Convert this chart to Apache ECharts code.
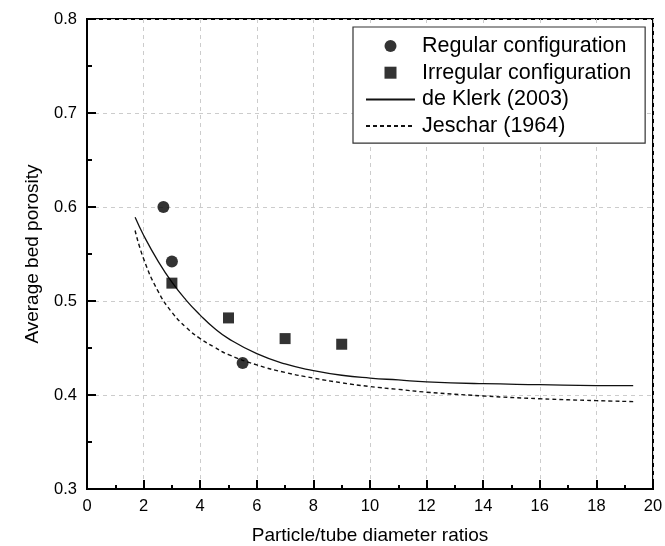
<!DOCTYPE html>
<html><head><meta charset="utf-8">
<script src="https://cdn.jsdelivr.net/npm/echarts@6/dist/echarts.min.js"></script>
<style>html,body{margin:0;padding:0;background:#fff}#c{width:665px;height:546px}</style>
</head><body><div id="c"></div>
<script>
const xTicks = [0, 2, 4, 6, 8, 10, 12, 14, 16, 18, 20];
const yTicks = [0.3, 0.4, 0.5, 0.6, 0.7, 0.8];
const regularX = [2.7, 3.0, 5.5];
const regularY = [0.600, 0.542, 0.434];
const irregularX = [3.0, 5.0, 7.0, 9.0];
const irregularY = [0.519, 0.482, 0.460, 0.454];
const deKlerkX = [1.7, 2.0, 2.5, 3.0, 3.5, 4.0, 4.5, 5.0, 6.0, 7.0, 8.0, 9.0, 10.0, 11.0, 12.0, 14.0, 16.0, 18.0, 19.3];
const deKlerkY = [0.589, 0.570, 0.543, 0.520, 0.501, 0.485, 0.471, 0.460, 0.444, 0.433, 0.426, 0.421, 0.418, 0.416, 0.414, 0.412, 0.411, 0.410, 0.410];
const jescharX = [1.7, 2.0, 2.5, 3.0, 3.5, 4.0, 4.5, 5.0, 6.0, 7.0, 8.0, 9.0, 10.0, 11.0, 12.0, 14.0, 16.0, 18.0, 19.3];
const jescharY = [0.575, 0.545, 0.511, 0.488, 0.472, 0.460, 0.451, 0.443, 0.432, 0.424, 0.418, 0.413, 0.409, 0.406, 0.403, 0.399, 0.396, 0.394, 0.393];
const names = ['Regular configuration', 'Irregular configuration', 'de Klerk (2003)', 'Jeschar (1964)'];
const xName = 'Particle/tube diameter ratios';
const yName = 'Average bed porosity';

const zip = (a, b) => a.map((v, i) => [v, b[i]]);
const FF = '"Liberation Sans", Arial, sans-serif';
const chart = echarts.init(document.getElementById('c'));
chart.setOption({
  animation: false,
  textStyle: { fontFamily: FF },
  grid: { left: 87, right: 12, top: 19, bottom: 57, containLabel: false, outerBoundsMode: 'none',
    show: true, borderColor: '#000', borderWidth: 2, backgroundColor: 'transparent' },
  legend: {
    orient: 'vertical', left: 353, top: 27,
    padding: [8, 14, 6, 12],
    borderColor: '#333', borderWidth: 1.2, backgroundColor: '#fff',
    itemWidth: 49, itemHeight: 12, itemGap: 4.7,
    symbolKeepAspect: true,
    textStyle: { fontSize: 21.5, color: '#000', fontFamily: FF, lineHeight: 22, padding: [0, 0, 0, 2] },
    data: [
      { name: names[0], icon: 'circle' },
      { name: names[1], icon: 'path://M0,0L10,0L10,10L0,10Z' },
      { name: names[2], itemStyle: { opacity: 0 } },
      { name: names[3], itemStyle: { opacity: 0 } }
    ]
  },
  xAxis: {
    type: 'value', min: xTicks[0], max: xTicks[xTicks.length - 1], interval: 2,
    name: xName, nameLocation: 'middle', nameGap: 37,
    nameTextStyle: { fontSize: 19, color: '#000', fontFamily: FF },
    axisLine: { show: true, lineStyle: { color: '#000', width: 2 } },
    axisTick: { show: true, inside: true, length: 9, lineStyle: { color: '#000', width: 2 } },
    minorTick: { show: true, splitNumber: 2, length: 4, lineStyle: { color: '#000', width: 2 } },
    axisLabel: { fontSize: 16.5, color: '#000', margin: 9, formatter: v => String(v) },
    splitLine: { show: true, lineStyle: { color: '#ccc', type: [4, 4], width: 1 } }
  },
  yAxis: {
    type: 'value', min: yTicks[0], max: yTicks[yTicks.length - 1], interval: 0.1,
    name: yName, nameLocation: 'middle', nameGap: 45,
    nameTextStyle: { fontSize: 19, color: '#000', fontFamily: FF },
    axisLine: { show: true, lineStyle: { color: '#000', width: 2 } },
    axisTick: { show: true, inside: true, length: 9, lineStyle: { color: '#000', width: 2 } },
    minorTick: { show: true, splitNumber: 2, length: 5, lineStyle: { color: '#000', width: 2 } },
    axisLabel: { fontSize: 16.5, color: '#000', margin: 10, formatter: v => v.toFixed(1) },
    splitLine: { show: true, lineStyle: { color: '#ccc', type: [4, 4], width: 1 } }
  },
  series: [
    { name: names[2], type: 'line', smooth: true, symbol: 'none', data: zip(deKlerkX, deKlerkY),
      lineStyle: { color: '#111', width: 1.3, type: 'solid' }, itemStyle: { color: '#111' }, z: 2 },
    { name: names[3], type: 'line', smooth: true, symbol: 'none', data: zip(jescharX, jescharY),
      lineStyle: { color: '#111', width: 1.4, type: [4, 3] }, itemStyle: { color: '#111' }, z: 2 },
    { name: names[0], type: 'scatter', symbol: 'circle', symbolSize: 12, data: zip(regularX, regularY),
      itemStyle: { color: '#000' }, z: 3 },
    { name: names[1], type: 'scatter', symbol: 'rect', symbolSize: 11, data: zip(irregularX, irregularY),
      itemStyle: { color: '#000' }, z: 3 }
  ]
});
</script></body></html>
